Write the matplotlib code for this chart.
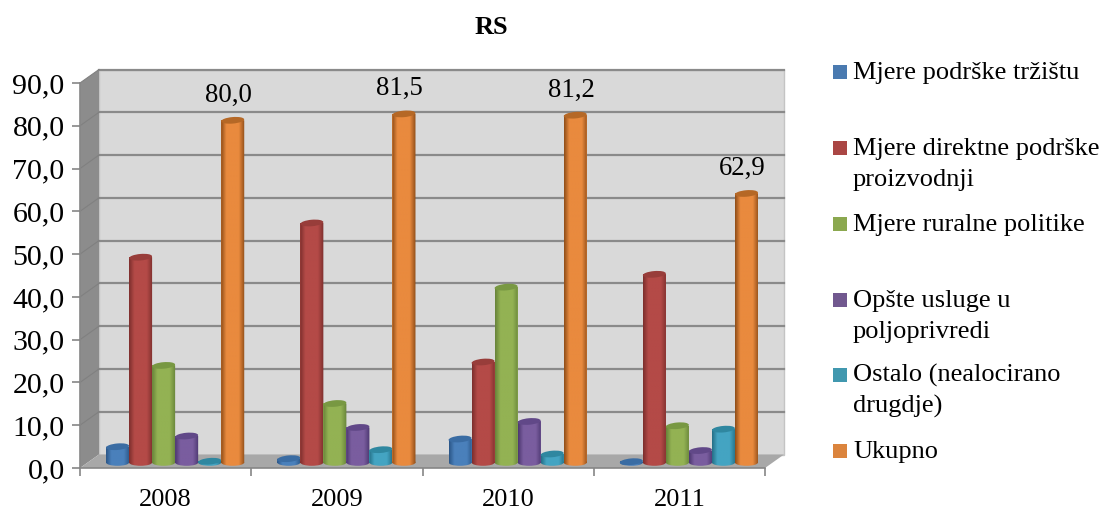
import numpy as np
import matplotlib
matplotlib.use("Agg")
from matplotlib import pyplot as plt
from matplotlib.colors import LinearSegmentedColormap
from matplotlib.patches import Ellipse, Polygon, Rectangle
from matplotlib.path import Path
from matplotlib.transforms import IdentityTransform

plt.rcParams['font.family'] = ['Liberation Serif', 'DejaVu Serif']

godine = ["2008", "2009", "2010", "2011"]
serije = ["Mjere podrške tržištu", "Mjere direktne podrške\nproizvodnji", "Mjere ruralne politike",
          "Opšte usluge u\npoljoprivredi", "Ostalo (nealocirano\ndrugdje)", "Ukupno"]
trziste = [3.7, 0.9, 5.5, 0.2]
direktne = [48.0, 56.0, 23.5, 44.0]
ruralne = [22.7, 13.8, 41.0, 8.6]
opste = [6.2, 8.2, 9.6, 2.8]
ostalo = [0.3, 3.0, 2.0, 7.8]
ukupno = [80.0, 81.5, 81.2, 62.9]
oznake = ["80,0", "81,5", "81,2", "62,9"]

vrijednosti = [trziste, direktne, ruralne, opste, ostalo, ukupno]
# tamna ivica, sredina, vrh valjka, legenda
boje = [("#2b5687", "#4a80bb", "#3a6ca3", "#4a7ab0"),
        ("#7c2f2d", "#b44a47", "#983d3a", "#aa4644"),
        ("#67833a", "#93b253", "#789842", "#8ba84f"),
        ("#4c3770", "#7a5d9f", "#614888", "#71588f"),
        ("#256f86", "#44a4c2", "#2f87a0", "#4198af"),
        ("#8f4d18", "#e98a3e", "#b56826", "#db843d")]

W, H = 1104, 511
fig = plt.figure(figsize=(W / 100, H / 100), dpi=100, facecolor="white")
ax = fig.add_axes([80 / W, (H - 468) / H, 685 / W, 385 / H], facecolor="none")
ax.set_xlim(0, 4)
ax.set_ylim(0, 90)

px_x = 4 / 685
px_y = 90 / 385
dx = 19 * px_x
dy = 13.5 * px_y
siva = "#8a8a8a"

# zidovi i pod
ax.add_patch(Polygon([(dx, dy), (4 + dx, dy), (4 + dx, 90 + dy), (dx, 90 + dy)], fc="#d9d9d9", ec="#c4c4c4",
                     lw=1, clip_on=False, zorder=0))
ax.add_patch(Polygon([(0, 0), (dx, dy), (dx, 90 + dy), (0, 90)], fc="#8c8c8c", ec="none", clip_on=False, zorder=0.1))
ax.add_patch(Polygon([(0, 0), (dx, dy), (4 + dx, dy), (4, 0)], fc="#a8a8a8", ec="none", clip_on=False, zorder=0.1))
for v in range(10, 100, 10):
    ax.plot([dx, 4 + dx], [v + dy, v + dy], color=siva, lw=1.6, clip_on=False, zorder=0.2)
    ax.plot([0, dx], [v, v + dy], color="#808080", lw=0.8, clip_on=False, zorder=0.2)

# valjci
sirina = 0.1345
visina_el = 6.5 * px_y
x_pom = dx / 2
y_pom = dy / 2 - 0.3
pomak = (np.arange(6) - 2.5) * sirina
z = 2
for i, podaci in enumerate(vrijednosti):
    cmap = LinearSegmentedColormap.from_list("c", [(0, boje[i][0]), (0.22, boje[i][1]), (0.75, boje[i][1]), (1, boje[i][0])])
    xs = np.arange(4) + 0.5 + x_pom + pomak[i]
    stubovi = ax.bar(xs, podaci, width=sirina, bottom=y_pom, color=boje[i][1], zorder=z)
    for x, v, s in zip(xs, podaci, stubovi):
        s.set_zorder(z)
        donja = Ellipse((x, y_pom), sirina, visina_el)
        tijelo = Path.make_compound_path(
            s.get_path().transformed(s.get_patch_transform()),
            donja.get_path().transformed(donja.get_patch_transform()))
        gradijent = ax.imshow(np.linspace(0, 1, 64)[None, :], extent=(x - sirina / 2, x + sirina / 2, y_pom - visina_el, y_pom + v),
                              cmap=cmap, aspect="auto", zorder=z + 0.1, interpolation="bilinear")
        gradijent.set_clip_path(tijelo, ax.transData)
        # vrh je blago nagnut, pa se crta u pikselima
        vrh = ax.transData.transform((x, y_pom + v))
        ax.add_patch(Ellipse(vrh, sirina / px_x, visina_el / px_y, angle=5, fc=boje[i][2], ec="none",
                             transform=IdentityTransform(), zorder=z + 0.2))
        z += 0.5
ax.set_xlim(0, 4)
ax.set_ylim(0, 90)

# ose
for strana in ["top", "right"]:
    ax.spines[strana].set_visible(False)
for strana in ["left", "bottom"]:
    ax.spines[strana].set_color("#868686")
    ax.spines[strana].set_linewidth(1.2)
    ax.spines[strana].set_zorder(1)
ax.set_yticks(range(0, 100, 10))
ax.set_yticklabels([f"{v},0" for v in range(0, 100, 10)])
ax.set_xticks(range(5))
ax.set_xticklabels([])
ax.set_xticks(np.arange(4) + 0.5, godine, minor=True)
ax.tick_params(axis="y", length=6, width=1.2, color="#868686", labelsize=21.5, pad=5)
ax.tick_params(axis="x", which="major", length=6, width=1.2, color="#868686")
ax.tick_params(axis="x", which="minor", length=0, labelsize=19, pad=15)

# oznake podataka
for k, (v, t) in enumerate(zip(ukupno, oznake)):
    ax.annotate(t, (k + 0.5 + x_pom + pomak[5], v + y_pom), xytext=(-3, 9), textcoords="offset points",
                ha="center", va="bottom", fontsize=19.3, zorder=40)

fig.text(491 / W, 1 - 28 / H, "RS", ha="center", va="center", fontsize=19, fontweight="bold")

# legenda, razmak redova 31 px
legenda_y = [72, 148, 224, 300, 375, 451]
for naziv, y, b in zip(serije, legenda_y, boje):
    fig.add_artist(Rectangle((833 / W, 1 - (y + 7) / H), 14 / W, 14 / H, fc=b[3], ec="none", transform=fig.transFigure))
    for r, red in enumerate(naziv.split("\n")):
        fig.text(853 / W, 1 - (y + 7 + r * 31) / H, red, ha="left", va="baseline", fontsize=19)

fig.savefig("out.png", dpi=100)
